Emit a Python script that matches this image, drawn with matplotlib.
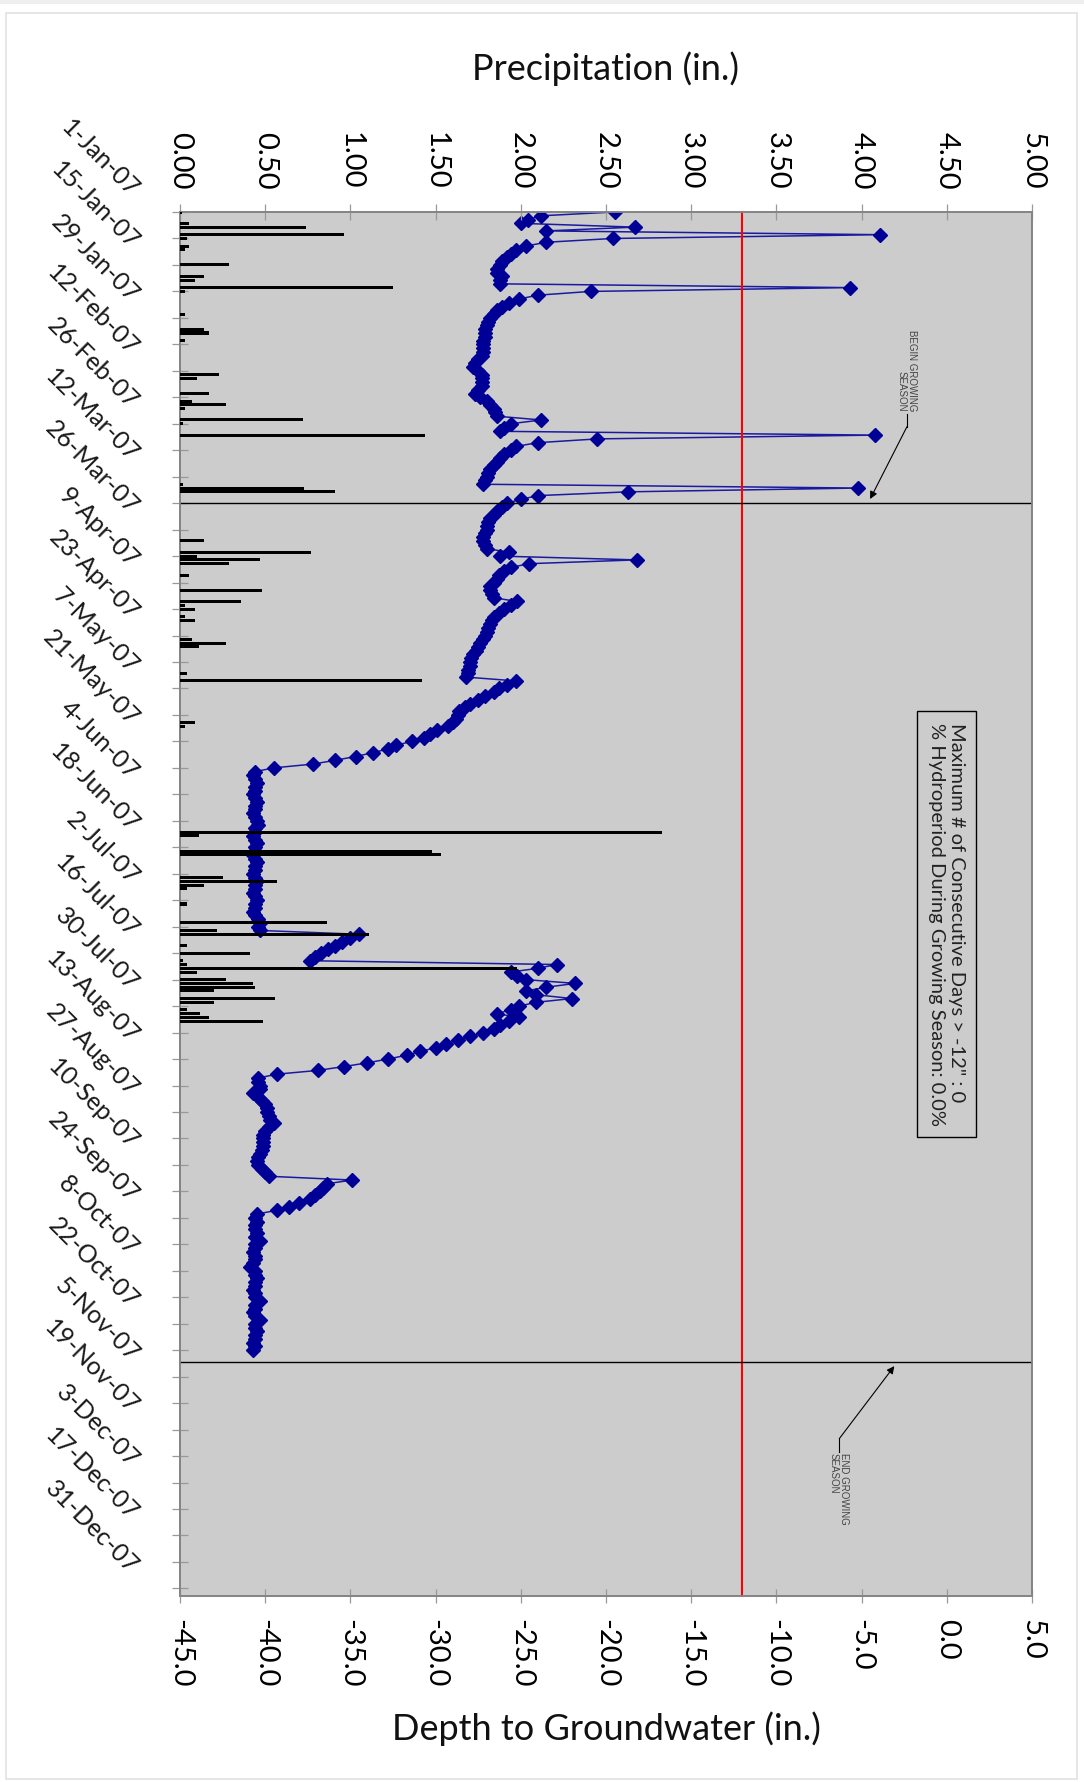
import matplotlib
matplotlib.use('Agg')
import matplotlib.pyplot as plt
import matplotlib.dates as mdates
from matplotlib.transforms import ScaledTranslation
from matplotlib.patches import Rectangle
import pandas as pd

# ---------------- data ----------------
gw_start = '2007-01-01'
gw_depth = [
    -19.5, -23.8, -24.6, -25.0, -18.3, -23.5, -3.9, -19.6, -23.5, -24.7,
    -25.3, -25.6, -25.8, -26.1, -26.2, -26.4, -26.4, -26.1, -26.2, -26.2,
    -5.7, -20.9, -24.0, -25.1, -25.7, -26.1, -26.4, -26.6, -26.8, -26.9,
    -27.0, -27.1, -27.1, -27.1, -27.2, -27.2, -27.2, -27.2, -27.3, -27.5,
    -27.7, -27.8, -27.5, -27.3, -27.3, -27.3, -27.3, -27.5, -27.7, -27.4,
    -27.0, -26.8, -26.6, -26.5, -26.4, -23.8, -25.6, -26.0, -26.2, -4.2,
    -20.5, -24.0, -25.3, -25.6, -26.0, -26.2, -26.4, -26.6, -26.8, -26.9,
    -27.0, -27.1, -27.2, -5.2, -18.7, -24.0, -25.0, -25.8, -26.1, -26.4,
    -26.6, -26.8, -26.9, -27.0, -27.0, -27.1, -27.2, -27.2, -27.1, -27.0,
    -25.7, -26.2, -18.2, -24.5, -25.6, -26.0, -26.3, -26.4, -26.6, -26.8,
    -26.8, -26.7, -26.6, -25.2, -25.6, -26.0, -26.3, -26.6, -26.7, -26.8,
    -26.9, -27.0, -27.1, -27.2, -27.4, -27.5, -27.6, -27.8, -27.9, -28.0,
    -28.0, -28.1, -28.1, -28.2, -25.3, -25.8, -26.3, -26.6, -27.1, -27.5,
    -28.0, -28.3, -28.6, -28.7, -28.8, -29.0, -29.3, -29.9, -30.3, -30.7,
    -31.4, -32.3, -32.8, -33.7, -34.7, -35.9, -37.2, -39.5,
    -40.6, -40.7, -40.6, -40.5, -40.6, -40.6, -40.7, -40.6, -40.5, -40.6,
    -40.6, -40.7, -40.6, -40.5, -40.4, -40.6, -40.6, -40.7, -40.6, -40.5,
    -40.6, -40.6, -40.7, -40.6, -40.5, -40.6, -40.6, -40.7, -40.6, -40.5,
    -40.6, -40.6, -40.7, -40.6, -40.5, -40.6, -40.6, -40.7, -40.6, -40.4,
    -40.3, -40.4,
    -40.3, -34.5, -35.0, -35.5, -35.9, -36.3, -36.7, -37.1, -37.4, -22.9,
    -24.0, -25.6, -25.2, -24.7, -21.8, -23.5, -24.7, -24.1, -22.0, -24.1,
    -25.1, -25.6, -26.4, -25.1, -25.7, -26.2, -26.6, -27.2, -28.0, -28.7,
    -29.4, -30.0, -30.9, -31.7, -32.8, -34.0, -35.4, -36.9, -39.3, -40.4,
    -40.4, -40.3, -40.3, -40.7, -40.4, -40.2, -40.0, -39.9, -39.9, -39.8,
    -39.7, -39.5, -39.8, -40.0, -40.1, -40.1, -40.1, -40.1, -40.2, -40.3,
    -40.4, -40.5, -40.4, -40.2, -40.0, -39.8, -34.9, -36.4, -36.6, -36.8,
    -37.1, -37.4, -38.0, -38.6, -39.3, -40.5,
    -40.6, -40.5, -40.6, -40.6, -40.5, -40.6, -40.3, -40.6, -40.6, -40.7,
    -40.6, -40.6, -40.7, -40.9, -40.6, -40.6, -40.5, -40.6, -40.6, -40.7,
    -40.6, -40.6, -40.3, -40.6, -40.6, -40.7, -40.6, -40.3, -40.6, -40.6,
    -40.5, -40.6, -40.6, -40.7, -40.6, -40.7,
]

precip_dates = [
    '2007-01-01', '2007-01-04', '2007-01-05', '2007-01-07', '2007-01-08', '2007-01-10',
    '2007-01-11', '2007-01-15', '2007-01-18', '2007-01-19', '2007-01-21', '2007-01-22',
    '2007-01-28', '2007-02-01', '2007-02-02', '2007-02-04', '2007-02-13', '2007-02-14',
    '2007-02-18', '2007-02-20', '2007-02-21', '2007-02-22', '2007-02-25', '2007-02-26',
    '2007-03-01', '2007-03-14', '2007-03-15', '2007-03-16', '2007-03-29', '2007-04-01',
    '2007-04-02', '2007-04-03', '2007-04-04', '2007-04-07', '2007-04-11', '2007-04-14',
    '2007-04-15', '2007-04-16', '2007-04-18', '2007-04-19', '2007-04-24', '2007-04-25',
    '2007-04-26', '2007-05-03', '2007-05-05', '2007-05-16', '2007-05-17', '2007-06-14',
    '2007-06-15', '2007-06-19', '2007-06-20', '2007-06-26', '2007-06-27', '2007-06-28',
    '2007-06-29', '2007-07-03', '2007-07-08', '2007-07-10', '2007-07-11', '2007-07-14',
    '2007-07-16', '2007-07-18', '2007-07-19', '2007-07-20', '2007-07-21', '2007-07-23',
    '2007-07-24', '2007-07-25', '2007-07-26', '2007-07-28', '2007-07-29', '2007-07-31',
    '2007-08-01', '2007-08-02', '2007-08-03',
]
precip_in = [
    0.01, 0.05, 0.74, 0.96, 0.04, 0.05,
    0.03, 0.29, 0.14, 0.09, 1.25, 0.03,
    0.03, 0.14, 0.17, 0.03, 0.23, 0.10,
    0.17, 0.07, 0.27, 0.03, 0.72, 0.02,
    1.44, 0.02, 0.73, 0.91, 0.14, 0.77,
    0.10, 0.47, 0.29, 0.05, 0.48, 0.36,
    0.03, 0.09, 0.03, 0.09, 0.07, 0.27,
    0.11, 0.04, 1.42, 0.09, 0.03, 2.83,
    0.11, 1.48, 1.53, 0.25, 0.57, 0.14,
    0.04, 0.04, 0.86, 0.22, 1.11, 0.04,
    0.41, 0.02, 0.04, 1.98, 0.10, 0.27,
    0.43, 0.44, 0.20, 0.56, 0.20, 0.04,
    0.12, 0.17, 0.49,
]

date_tick_labels = ['1-Jan-07', '15-Jan-07', '29-Jan-07', '12-Feb-07', '26-Feb-07',
                    '12-Mar-07', '26-Mar-07', '9-Apr-07', '23-Apr-07', '7-May-07',
                    '21-May-07', '4-Jun-07', '18-Jun-07', '2-Jul-07', '16-Jul-07',
                    '30-Jul-07', '13-Aug-07', '27-Aug-07', '10-Sep-07', '24-Sep-07',
                    '8-Oct-07', '22-Oct-07', '5-Nov-07', '19-Nov-07', '3-Dec-07',
                    '17-Dec-07', '31-Dec-07']
precip_ticks = [0.0, 0.5, 1.0, 1.5, 2.0, 2.5, 3.0, 3.5, 4.0, 4.5, 5.0]
precip_tick_labels = ['0.00', '0.50', '1.00', '1.50', '2.00', '2.50', '3.00',
                      '3.50', '4.00', '4.50', '5.00']
depth_ticks = [-45, -40, -35, -30, -25, -20, -15, -10, -5, 0, 5]
depth_tick_labels = ['-45.0', '-40.0', '-35.0', '-30.0', '-25.0', '-20.0', '-15.0',
                     '-10.0', '-5.0', '0.0', '5.0']
threshold_depth = -12.0
season_begin = '2007-03-19'
season_end = '2007-11-01'
box_lines = ['Maximum # of Consecutive Days > -12" : 0',
             '% Hydroperiod During Growing Season: 0.0%']

# ---------------- figure ----------------
W, H = 1084, 1782
fig = plt.figure(figsize=(W / 100, H / 100), dpi=100)
fig.patch.set_facecolor('white')

# page frame
fig.patches.append(Rectangle((0, 1 - 4 / H), 1, 4 / H, transform=fig.transFigure,
                             facecolor='#eeeeee', edgecolor='none', zorder=0))
fig.patches.append(Rectangle((6 / W, 1 - 1779 / H), 1071 / W, 1766 / H,
                             transform=fig.transFigure, facecolor='none',
                             edgecolor='#e2e2e2', lw=1.2, zorder=0))

L, R, T, B = 180, 1032, 212, 1596
ax = fig.add_axes([L / W, 1 - B / H, (R - L) / W, (B - T) / H])
ax.set_facecolor('#cccccc')
axp = ax.twiny()

start = pd.Timestamp(gw_start)
gw_dates = pd.date_range(start, periods=len(gw_depth), freq='D')
p_dates = pd.to_datetime(precip_dates)

navy = '#000096'
axp.barh(p_dates, precip_in, height=0.8, color='black', align='center', zorder=3)
ax.plot(gw_depth, gw_dates, color='#1a1aa0', lw=1.1, marker='D', ms=7.4,
        mfc=navy, mec=navy, zorder=3)

ax.axvline(threshold_depth, color='#ff0000', lw=1.5, zorder=4)
for d in (season_begin, season_end):
    ax.axhline(pd.Timestamp(d), color='black', lw=1.0, zorder=4)

ax.set_xlim(-45, 5)
axp.set_xlim(0, 5)
ax.set_ylim(start + pd.Timedelta(days=366), start)

major_dates = pd.date_range(start, periods=len(date_tick_labels), freq='14D')
minor_dates = pd.date_range(start + pd.Timedelta(days=7), periods=26, freq='14D')
ax.set_yticks(major_dates)
ax.set_yticks(minor_dates, minor=True)
ax.set_yticklabels(date_tick_labels, rotation=-45, ha='right', va='center',
                   rotation_mode='anchor', fontsize=18, color='#1a1a1a', family='Lato')

ax.set_xticks(depth_ticks)
ax.set_xticklabels(depth_tick_labels, rotation=-90, fontsize=21, family='Lato')
axp.set_xticks(precip_ticks)
axp.set_xticklabels(precip_tick_labels, rotation=-90, fontsize=21, family='Lato')

tick_col = '#999999'
ax.tick_params(axis='y', which='both', direction='inout', length=11, width=0.9,
               color=tick_col, pad=27)
ax.tick_params(axis='x', direction='inout', length=9.5, width=0.9, color=tick_col, pad=12)
axp.tick_params(axis='x', direction='inout', length=11, width=0.9, color=tick_col, pad=10.5)

for a in (ax, axp):
    for s in a.spines.values():
        s.set_color('#858585')
        s.set_linewidth(1.3)

# shift date labels so they sit above their ticks like the reference
for lab in ax.get_yticklabels():
    lab.set_transform(lab.get_transform() + ScaledTranslation(0, 0.19, fig.dpi_scale_trans))

# axis titles
fig.text(0.5 * (L + R) / W, 1 - 80 / H, 'Precipitation (in.)', ha='center', va='baseline',
         fontsize=26, family='Lato', color='#111111')
fig.text(0.5 * (L + R) / W, 1 - 1740 / H, 'Depth to Groundwater (in.)', ha='center',
         va='baseline', fontsize=26, family='Lato', color='#111111')

# info box
ax.text(0.8996, 0.4855, '\n'.join(box_lines), transform=ax.transAxes, rotation=-90,
        ha='center', va='center', multialignment='left', fontsize=14.5, family='Lato',
        color='#222222', linespacing=1.2, zorder=6,
        bbox=dict(boxstyle='square,pad=0.55', fc='#cccccc', ec='black', lw=1.0))

# growing season annotations
def dnum(days):
    return mdates.date2num(start + pd.Timedelta(days=days))

ax.text(-2.34, dnum(52.8), 'BEGIN GROWING\nSEASON', rotation=-90, ha='center', va='bottom',
        multialignment='right', fontsize=7, family='Liberation Sans', color='#444444',
        linespacing=1.0, zorder=6)
ax.plot([-2.34, -2.34], [dnum(53.3), dnum(56.8)], color='black', lw=0.8, zorder=6)
ax.annotate('', xy=(-4.5, dnum(75.9)), xytext=(-2.34, dnum(56.8)),
            arrowprops=dict(arrowstyle='-|>', color='black', lw=0.8, mutation_scale=11,
                            shrinkA=0, shrinkB=0), zorder=6)

ax.text(-6.34, dnum(328.3), 'END GROWING\nSEASON', rotation=-90, ha='center', va='top',
        multialignment='left', fontsize=7, family='Liberation Sans', color='#444444',
        linespacing=1.0, zorder=6)
ax.plot([-6.31, -6.31], [dnum(324.4), dnum(328.0)], color='black', lw=0.8, zorder=6)
ax.annotate('', xy=(-3.08, dnum(305.2)), xytext=(-6.31, dnum(324.4)),
            arrowprops=dict(arrowstyle='-|>', color='black', lw=0.8, mutation_scale=11,
                            shrinkA=0, shrinkB=0), zorder=6)

fig.savefig('out.png', dpi=100, facecolor='white')
